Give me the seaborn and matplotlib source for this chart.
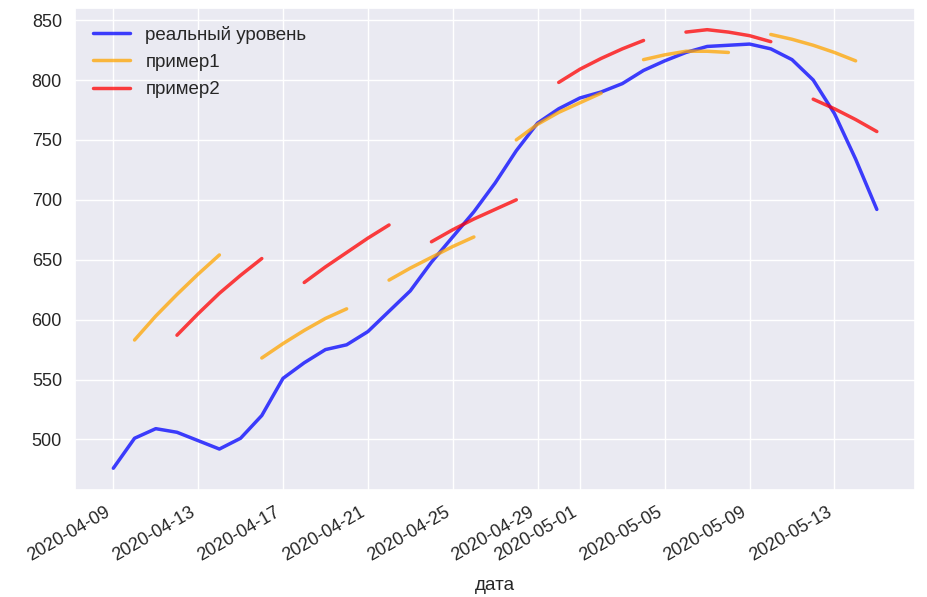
import numpy as np
import pandas as pd
import matplotlib
matplotlib.use("Agg")
import matplotlib.pyplot as plt
import seaborn as sns

# ---- data ----
real_start = "2020-04-09"
real_values = [476, 501, 509, 506, 499, 492, 501, 520, 551, 564, 575, 579,
               590, 607, 624, 648, 669, 690, 714, 741, 764, 776, 785, 790,
               797, 808, 816, 823, 828, 829, 830, 826, 817, 800, 772, 734, 692]

primer1_starts = ["2020-04-10", "2020-04-16", "2020-04-22", "2020-04-28", "2020-05-04", "2020-05-10"]
primer1_values = [
    [583, 603, 621, 638, 654],
    [568, 580, 591, 601, 609],
    [633, 643, 652, 661, 669],
    [750, 763, 773, 781, 789],
    [817, 821, 824, 824, 823],
    [838, 834, 829, 823, 816],
]

primer2_starts = ["2020-04-12", "2020-04-18", "2020-04-24", "2020-04-30", "2020-05-06", "2020-05-12"]
primer2_values = [
    [587, 605, 622, 637, 651],
    [631, 644, 656, 668, 679],
    [665, 675, 684, 692, 700],
    [798, 809, 818, 826, 833],
    [840, 842, 840, 837, 832],
    [784, 776, 767, 757],
]

labels = ["реальный уровень", "пример1", "пример2"]
colors = ["blue", "orange", "red"]

# ---- plot ----
sns.set_theme(style="darkgrid")
plt.rcParams["font.family"] = ["Liberation Sans", "DejaVu Sans"]

fig = plt.figure(figsize=(9.28, 5.97), dpi=100)
ax = fig.add_axes([0.081, 0.179, 0.905, 0.808])

lw = 2.5
alpha = 0.75

real_dates = pd.date_range(real_start, periods=len(real_values), freq="D")
sns.lineplot(x=real_dates, y=real_values, ax=ax, color=colors[0], lw=lw, alpha=alpha, label=labels[0])

for i, (s, vals) in enumerate(zip(primer1_starts, primer1_values)):
    d = pd.date_range(s, periods=len(vals), freq="D")
    sns.lineplot(x=d, y=vals, ax=ax, color=colors[1], lw=lw, alpha=alpha,
                 label=labels[1] if i == 0 else None)

for i, (s, vals) in enumerate(zip(primer2_starts, primer2_values)):
    d = pd.date_range(s, periods=len(vals), freq="D")
    sns.lineplot(x=d, y=vals, ax=ax, color=colors[2], lw=lw, alpha=alpha,
                 label=labels[2] if i == 0 else None)

ax.set_xlabel("дата", fontsize=13.5, labelpad=9)
ax.set_ylabel("")
ax.tick_params(axis="both", labelsize=13)
for lab in ax.get_xticklabels():
    lab.set_rotation(30)
    lab.set_ha("right")

leg = ax.legend(loc="upper left", frameon=False, fontsize=13.5,
                borderaxespad=0.55, labelspacing=0.55)

fig.savefig("out.png", dpi=100)
